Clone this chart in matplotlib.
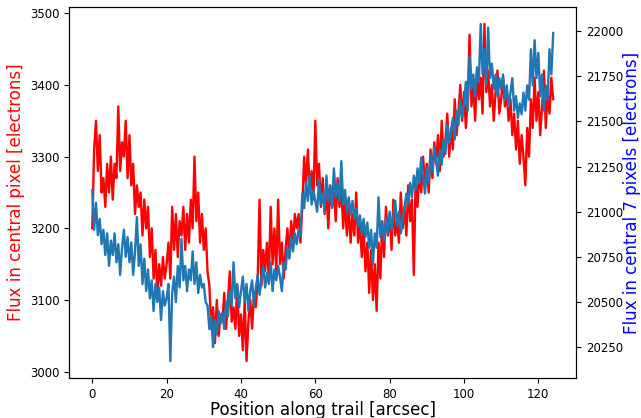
import numpy as np
from matplotlib import pyplot as plt

# position along trail, 0.5 arcsec steps
position = np.arange(0, 124.5, 0.5)

# flux in central pixel [electrons]
flux_central = [
    3200, 3310, 3350, 3280, 3330, 3250, 3270, 3230, 3290, 3250,
    3300, 3240, 3290, 3270, 3370, 3280, 3320, 3300, 3350, 3270,
    3330, 3260, 3290, 3220, 3260, 3230, 3250, 3190, 3240, 3200,
    3230, 3160, 3200, 3130, 3170, 3110, 3150, 3120, 3160, 3130,
    3150, 3180, 3130, 3230, 3170, 3220, 3160, 3210, 3190, 3230,
    3170, 3220, 3180, 3240, 3200, 3300, 3210, 3250, 3180, 3220,
    3170, 3200, 3140, 3120, 3060, 3090, 3040, 3100, 3050, 3080,
    3070, 3110, 3060, 3100, 3140, 3070, 3090, 3060, 3120, 3050,
    3080, 3030, 3100, 3015, 3070, 3100, 3060, 3110, 3090, 3130,
    3240, 3120, 3170, 3140, 3180, 3130, 3230, 3150, 3200, 3140,
    3240, 3150, 3180, 3130, 3170, 3200, 3160, 3210, 3180, 3220,
    3200, 3220, 3180, 3230, 3300, 3260, 3310, 3250, 3280, 3240,
    3350, 3260, 3290, 3230, 3270, 3220, 3250, 3200, 3260, 3230,
    3250, 3210, 3270, 3230, 3260, 3200, 3240, 3190, 3230, 3180,
    3220, 3190, 3250, 3180, 3210, 3160, 3200, 3140, 3180, 3110,
    3170, 3100, 3150, 3085, 3180, 3130, 3210, 3160, 3230, 3190,
    3220, 3170, 3240, 3190, 3210, 3180, 3250, 3200, 3230, 3190,
    3260, 3210, 3240, 3135, 3270, 3230, 3280, 3250, 3300, 3260,
    3290, 3250, 3310, 3270, 3320, 3290, 3330, 3280, 3350, 3300,
    3320, 3360, 3300, 3340, 3310, 3380, 3330, 3360, 3400, 3350,
    3390, 3340, 3380, 3470, 3370, 3400, 3350, 3420, 3380, 3410,
    3360, 3485, 3390, 3420, 3370, 3400, 3350, 3390, 3420, 3360,
    3380, 3410, 3370, 3390, 3350, 3380, 3330, 3360, 3310, 3350,
    3290, 3330, 3300, 3260, 3340, 3300, 3380, 3340, 3410, 3350,
    3390, 3330, 3370, 3420, 3340, 3390, 3360, 3410, 3380,
]

# flux in central 7 pixels [electrons]
flux_seven = [
    21120, 20900, 21050, 20870, 20960, 20820, 20900, 20760, 20880, 20700,
    20840, 20760, 20880, 20720, 20820, 20650, 20800, 20900, 20750, 20860,
    20720, 20830, 20650, 20780, 20970, 20700, 20820, 20600, 20740, 20560,
    20680, 20520, 20620, 20450, 20600, 20500, 20580, 20400, 20560, 20480,
    20520, 20600, 20173, 20550, 20640, 20500, 20700, 20580, 20850, 20620,
    20700, 20560, 20680, 20620, 20780, 20600, 20720, 20550, 20650, 20580,
    20600, 20500, 20480, 20350, 20420, 20250, 20400, 20320, 20450, 20380,
    20440, 20350, 20500, 20420, 20560, 20480, 20720, 20520, 20600, 20470,
    20560, 20640, 20500, 20600, 20450, 20560, 20620, 20480, 20580, 20650,
    20540, 20620, 20700, 20580, 20660, 20600, 20720, 20560, 20680, 20620,
    20700, 20640, 20560, 20720, 20680, 20800, 20740, 20860, 20780, 20880,
    20820, 20900, 20860, 21100, 21020, 21160, 21060, 21200, 21040, 21120,
    21060, 21000, 21180, 21040, 21100, 21000, 21200, 21060, 21140, 21020,
    21240, 21080, 21160, 21060, 21280, 21040, 21120, 21000, 21080, 20980,
    21060, 20960, 21020, 20920, 20980, 20880, 20960, 20860, 20940, 20800,
    20900, 20710, 20880, 20800, 21080, 20860, 20940, 20840, 20960, 20880,
    21000, 20900, 20980, 21060, 20920, 21000, 20880, 20960, 21020, 21100,
    21040, 21160, 21080, 21200, 21120, 21240, 21160, 21300, 21200, 21100,
    21240, 21160, 21320, 21220, 21360, 21280, 21200, 21340, 21260, 21400,
    21320, 21480, 21380, 21440, 21520, 21400, 21560, 21480, 21620, 21520,
    21600, 21720, 21560, 21860, 21680, 21760, 21640, 21800, 21720, 22040,
    21760, 21900, 21700, 22020, 21740, 21820, 21680, 21760, 21640, 21740,
    21680, 21760, 21620, 21700, 21580, 21660, 21740, 21560, 21640, 21520,
    21600, 21540, 21660, 21560, 21700, 21620, 21900, 21700, 21950, 21740,
    21880, 21640, 21760, 21560, 21700, 21620, 21900, 21760, 21990,
]

fig, ax = plt.subplots(figsize=(6.41, 4.18), dpi=100)
fig.subplots_adjust(left=0.108, right=0.899, top=0.983, bottom=0.096)

ax.plot(position, flux_central, color="r", lw=1.7)
ax.set_xlabel("Position along trail [arcsec]", fontsize=12)
ax.set_ylabel("Flux in central pixel [electrons]", color="r", fontsize=12)
ax.set_xticks(range(0, 121, 20))
ax.set_yticks(range(3000, 3501, 100))
ax.tick_params(labelsize=8.5)
ax.xaxis.set_label_coords(0.5, -0.062)
ax.yaxis.set_label_coords(-0.087, 0.5)

ax2 = ax.twinx()
ax2.plot(position, flux_seven, color="C0", lw=1.7)
ax2.set_ylabel("Flux in central 7 pixels [electrons]", color="b", fontsize=12)
ax2.set_yticks(range(20250, 22001, 250))
ax2.tick_params(labelsize=8.5)
ax2.yaxis.set_label_coords(1.092, 0.5)

fig.savefig("out.png")
